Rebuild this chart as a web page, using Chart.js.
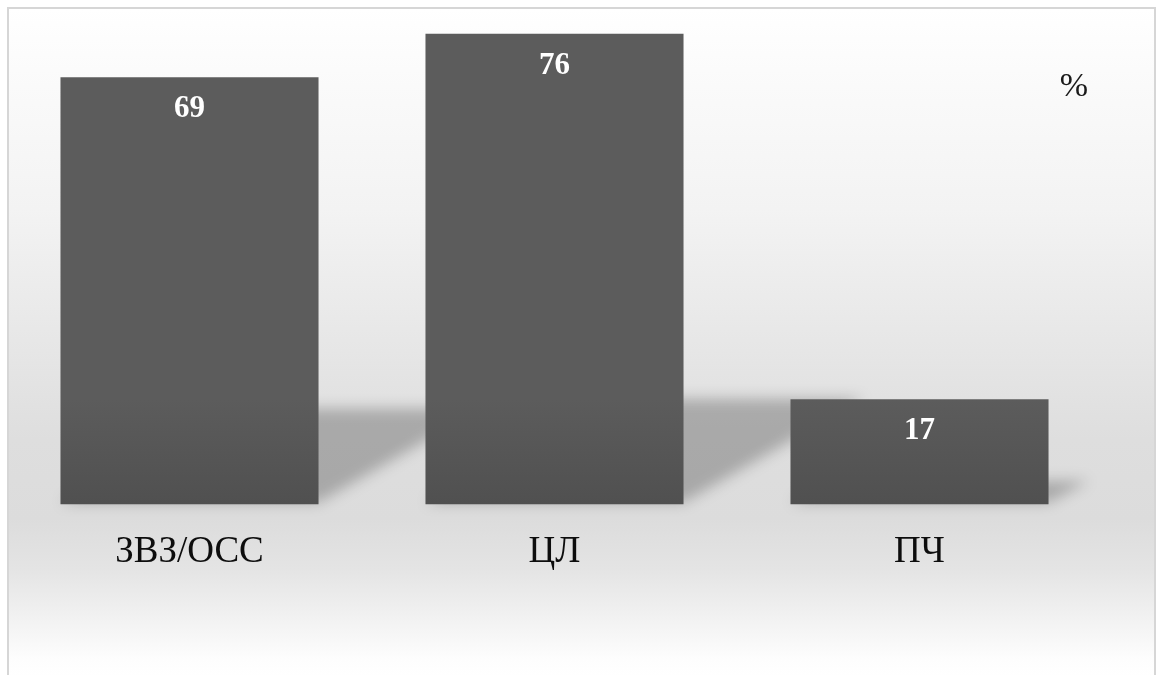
<!DOCTYPE html>
<html>
<head>
<meta charset="utf-8">
<script src="https://cdn.jsdelivr.net/npm/chart.js@4/dist/chart.umd.min.js"></script>
<style>
  html, body { margin: 0; padding: 0; background: #ffffff; }
  #wrap { position: relative; width: 1161px; height: 675px; overflow: hidden; }
  #frame {
    position: absolute; left: 7px; top: 7px; width: 1149px; height: 720px;
    border: 2px solid #d6d6d6; box-sizing: border-box;
    background: linear-gradient(to bottom,
      #ffffff 0px, #fbfbfb 60px, #f3f3f3 200px, #e8e8e8 320px,
      #dedede 430px, #dcdcdc 510px, #e4e4e4 560px, #f2f2f2 610px,
      #fdfdfd 650px, #ffffff 668px);
  }
  canvas { position: absolute; left: 0; top: 0; }
</style>
</head>
<body>
<div id="wrap">
  <div id="frame"></div>
  <canvas id="c" width="1161" height="675"></canvas>
</div>
<script>
const categories = ['ЗВЗ/ОСС', 'ЦЛ', 'ПЧ'];
const values = [69, 76, 17];
const unitLabel = '%';
const yMin = 0;
const yMax = 80;

const SERIF = '"Liberation Serif", "Times New Roman", serif';

const shadowPlugin = {
  id: 'barShadow',
  beforeDatasetsDraw(chart) {
    const ctx = chart.ctx;
    const meta = chart.getDatasetMeta(0);
    ctx.save();
    meta.data.forEach((el) => {
      const p = el.getProps(['x', 'y', 'base', 'width'], true);
      const left = p.x - p.width / 2, right = p.x + p.width / 2;
      const bh = p.base - p.y;
      const h = Math.max(bh * 0.225, 0);
      const dx = h * 1.7;
      ctx.save();
      ctx.filter = 'blur(7px)';
      ctx.fillStyle = 'rgba(0,0,0,0.24)';
      ctx.beginPath();
      ctx.moveTo(left, p.base - 2);
      ctx.lineTo(right, p.base - 2);
      ctx.lineTo(right + dx, p.base - h);
      ctx.lineTo(left + dx, p.base - h);
      ctx.closePath();
      ctx.fill();
      ctx.restore();
    });
    meta.data.forEach((el) => {
      const p = el.getProps(['y', 'base'], true);
      const g = ctx.createLinearGradient(0, p.y, 0, p.base);
      g.addColorStop(0, '#5c5c5c');
      g.addColorStop(1, '#505050');
      el.options.backgroundColor = g;
    });
    ctx.restore();
  },
  afterDatasetsDraw(chart) {
    const ctx = chart.ctx;
    const meta = chart.getDatasetMeta(0);
    ctx.save();
    ctx.fillStyle = '#ffffff';
    ctx.font = 'bold 31px ' + SERIF;
    ctx.textAlign = 'center';
    ctx.textBaseline = 'middle';
    meta.data.forEach((el, i) => {
      const p = el.getProps(['x', 'y'], true);
      ctx.fillText(String(values[i]), p.x, p.y + 32);
    });
    ctx.fillStyle = '#1a1a1a';
    ctx.font = '34px ' + SERIF;
    const a = chart.chartArea;
    ctx.fillText(unitLabel, a.right - 28, a.top + 78);
    ctx.restore();
  }
};

new Chart(document.getElementById('c'), {
  type: 'bar',
  data: {
    labels: categories,
    datasets: [{
      data: values,
      backgroundColor: '#555555',
      borderWidth: 0,
      barPercentage: 0.707,
      categoryPercentage: 1.0
    }]
  },
  options: {
    responsive: false,
    animation: false,
    devicePixelRatio: 1,
    layout: { padding: { left: 7, right: 59, top: 9, bottom: 76 } },
    plugins: { legend: { display: false }, tooltip: { enabled: false } },
    scales: {
      x: {
        grid: { display: false, drawTicks: false },
        border: { display: false },
        ticks: {
          color: '#0d0d0d',
          font: { family: SERIF, size: 37 },
          padding: 25
        }
      },
      y: {
        display: false,
        min: yMin,
        max: yMax
      }
    }
  },
  plugins: [shadowPlugin]
});
</script>
</body>
</html>
